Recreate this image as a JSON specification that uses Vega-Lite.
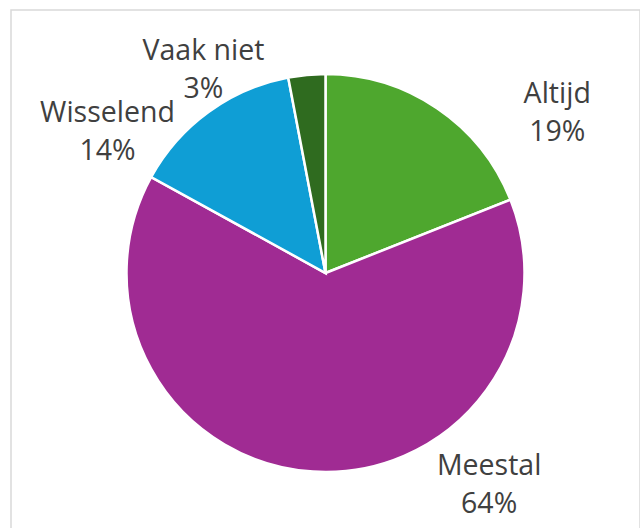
{
  "$schema": "https://vega.github.io/schema/vega-lite/v6.json",
  "width": 629,
  "height": 526,
  "autosize": {"type": "none"},
  "padding": {"left": 11, "top": 10, "right": 0, "bottom": 0},
  "background": "white",
  "view": {"stroke": "#D9D9D9", "strokeWidth": 1.5},
  "data": {"values": [
    {"category": "Altijd", "pct": 19, "order": 1},
    {"category": "Meestal", "pct": 64, "order": 2},
    {"category": "Wisselend", "pct": 14, "order": 3},
    {"category": "Vaak niet", "pct": 3, "order": 4}
  ]},
  "transform": [{"calculate": "[datum.category, datum.pct + '%']", "as": "label"}],
  "encoding": {
    "theta": {"field": "pct", "type": "quantitative", "stack": true},
    "order": {"field": "order", "type": "quantitative"}
  },
  "layer": [
    {
      "mark": {"type": "arc", "outerRadius": 199, "stroke": "white", "strokeWidth": 2.5},
      "encoding": {
        "color": {
          "field": "category",
          "type": "nominal",
          "scale": {"domain": ["Altijd", "Meestal", "Wisselend", "Vaak niet"], "range": ["#4EA72E", "#A02B93", "#0F9ED5", "#2F6B1F"]},
          "legend": null
        }
      }
    },
    {
      "mark": {
        "type": "text",
        "radius": 245,
        "fontSize": 28.5,
        "font": "Open Sans",
        "fill": "#404040",
        "lineHeight": 38,
        "align": "center",
        "baseline": "middle",
        "dx": {"expr": "datum.category === 'Altijd' ? 94 : datum.category === 'Meestal' ? 179 : datum.category === 'Wisselend' ? -74 : -99"},
        "dy": {"expr": "datum.category === 'Altijd' ? 24 : datum.category === 'Meestal' ? -52 : datum.category === 'Wisselend' ? 38 : 22"}
      },
      "encoding": {"text": {"field": "label"}}
    }
  ]
}
